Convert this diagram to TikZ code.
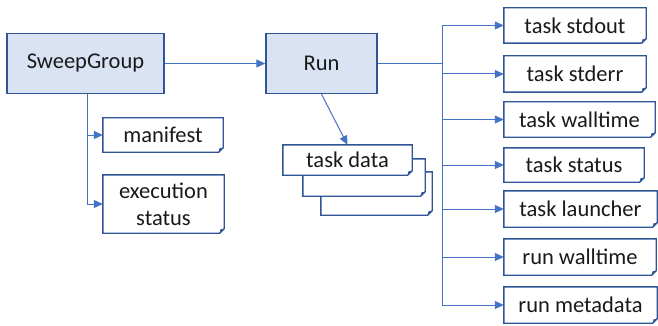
\documentclass[tikz,border=0pt]{standalone}
\usepackage{fontspec}
\setmainfont{Carlito}
\usetikzlibrary{arrows.meta}
\definecolor{boxedge}{HTML}{2F5597}
\definecolor{linecol}{HTML}{4472C4}
\definecolor{boxfill}{HTML}{DAE3F3}
\definecolor{txt}{HTML}{1A1A1A}
\newcommand{\foldbox}[1]{%
  \draw[boxedge,line width=1.4pt,line join=miter] (#1.north west) -- (#1.north east) -- ([yshift=4.5pt]#1.south east) -- ([xshift=-4.5pt]#1.south east) -- (#1.south west) -- cycle;
  \fill[boxedge] ([yshift=4.5pt]#1.south east) -- ([xshift=-4.5pt]#1.south east) -- ([xshift=-3.8pt,yshift=3.8pt]#1.south east) -- cycle;}
\begin{document}
\begin{tikzpicture}[x=1pt,y=-1pt,
  every node/.style={font=\fontsize{22.5}{27}\selectfont,text=txt,inner sep=0pt},
  mainbox/.style={draw=boxedge,fill=boxfill,line width=1.4pt,minimum height=60pt},
  notebox/.style={fill=white,minimum height=35pt},
  conn/.style={draw=linecol,line width=1pt,-{Triangle[length=9pt,width=8pt]}},
  plain/.style={draw=linecol,line width=1pt}]
\useasboundingbox (0,0) rectangle (658,326);
% main boxes
\node[mainbox,minimum width=157pt] (sg) at (85.5,63.5) {SweepGroup};
\node[mainbox,minimum width=111pt] (run) at (321.5,63.5) {Run};
% left notes
\node[notebox,minimum width=120pt,minimum height=34pt] (man) at (163,135) {manifest};
\node[notebox,minimum width=121pt,minimum height=58pt,align=center] (exe) at (163.5,204) {execution\\status};
\foldbox{man}
\foldbox{exe}
% task data stack
\node[notebox,minimum width=111pt,minimum height=43pt] (td3) at (376.5,193.5) {};
\foldbox{td3}
\node[notebox,minimum width=122pt,minimum height=37pt] (td2) at (364,177.5) {};
\foldbox{td2}
\node[notebox,minimum width=129pt,minimum height=30pt] (td) at (347.5,160) {task data};
\foldbox{td}
% right column
\node[notebox,minimum width=142pt] (r1) at (575,25.5) {task stdout};
\node[notebox,minimum width=142pt,minimum height=36pt] (r2) at (575,74) {task stderr};
\node[notebox,minimum width=151pt] (r3) at (579.5,119.5) {task walltime};
\node[notebox,minimum width=140pt,minimum height=34pt] (r4) at (574,165) {task status};
\node[notebox,minimum width=153pt,minimum height=36pt] (r5) at (580.5,209) {task launcher};
\node[notebox,minimum width=152pt,minimum height=36pt] (r6) at (580,257) {run walltime};
\node[notebox,minimum width=153pt,minimum height=36pt] (r7) at (580.5,305) {run metadata};
\foreach \n in {r1,r2,r3,r4,r5,r6,r7} {\foldbox{\n}}
% connectors
\draw[conn] (sg.east) -- (run.west);
\coordinate (sgb) at ([xshift=1.5pt]sg.south);
\draw[conn] (sgb) |- (man.west);
\draw[conn] (sgb) |- (exe.west);
\draw[conn] (run.south) -- (td.north);
\coordinate (tr) at (442,63.5);
\draw[plain] (run.east) -- (tr);
\foreach \n in {r1,r2,r3,r4,r5,r6,r7} {\draw[conn] (tr) |- (\n.west);}
\end{tikzpicture}
\end{document}
